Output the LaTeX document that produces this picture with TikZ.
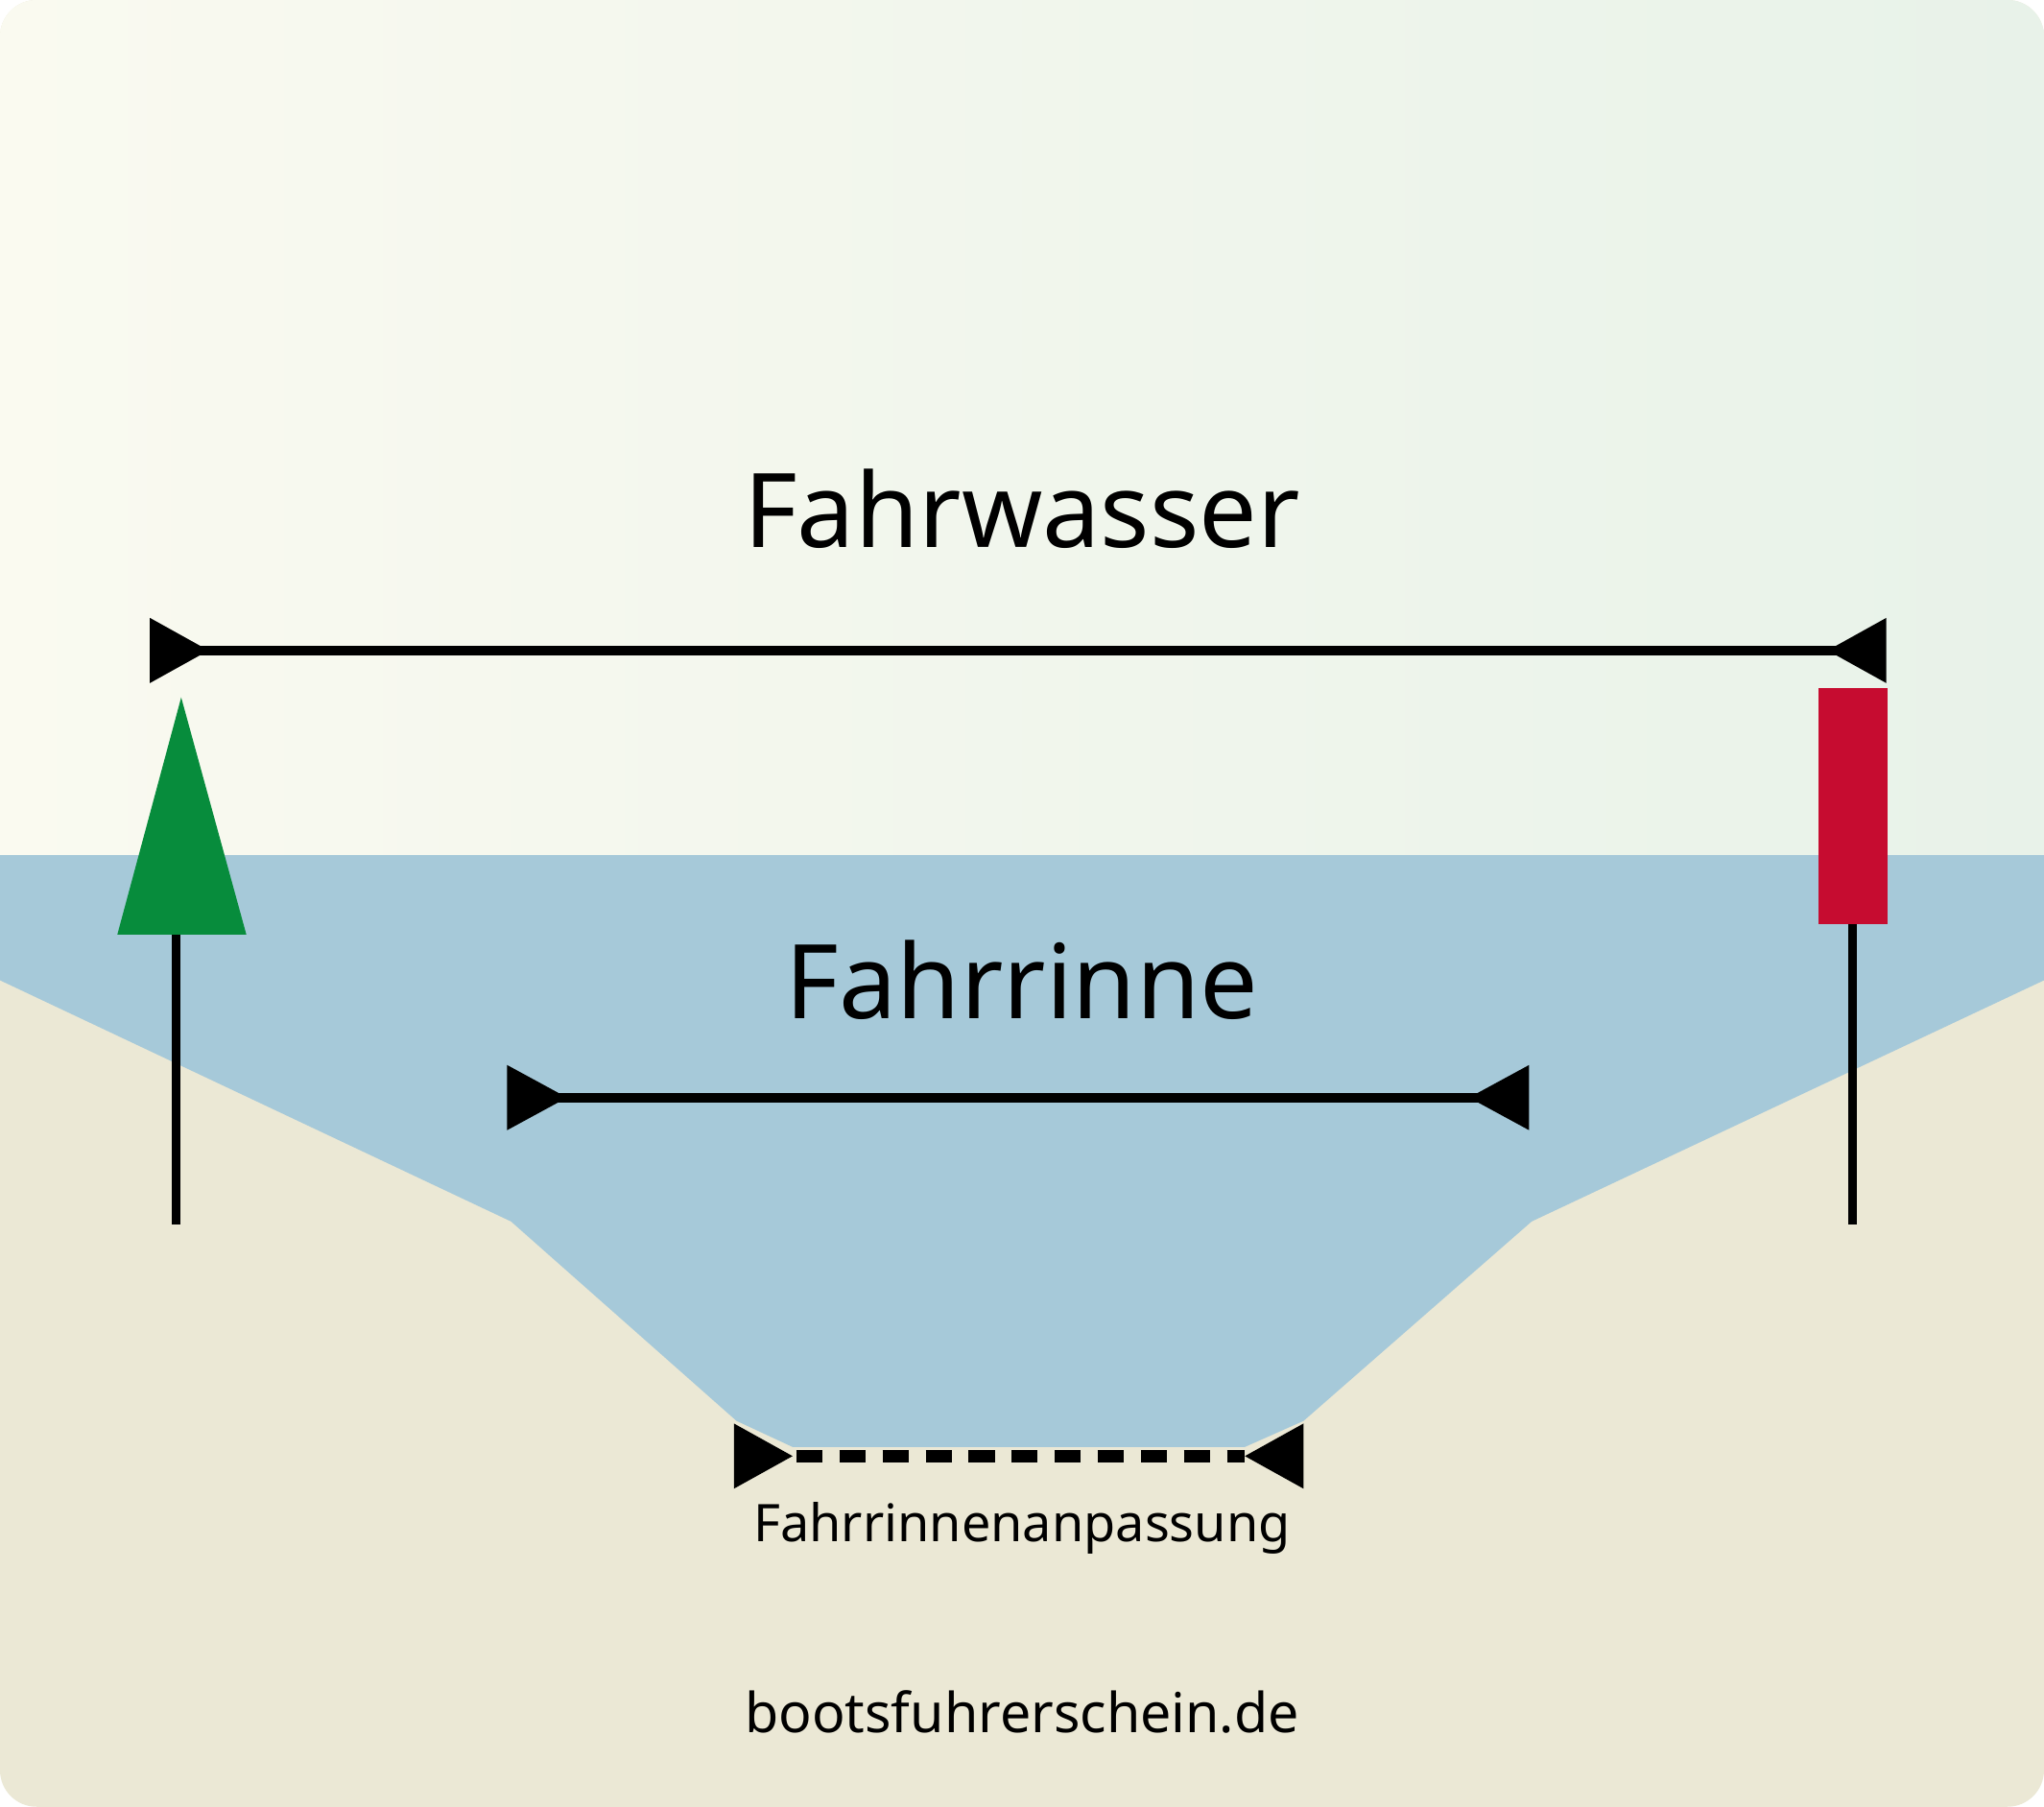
\documentclass[tikz,border=0pt]{standalone}
\usepackage{fontspec}
\setmainfont{Noto Sans}
\begin{document}
\begin{tikzpicture}[x=0.01cm,y=-0.01cm,
  lbl/.style={inner sep=0pt,text=black},
  bar/.style={line width=2pt,black},
  head/.style={fill=black}]
\definecolor{sky1}{HTML}{FAFAF0}\definecolor{sky2}{HTML}{E8F2E9}
\definecolor{sand}{HTML}{EBE8D5}\definecolor{water}{HTML}{A6C9D9}
\definecolor{grn}{HTML}{078C3C}\definecolor{rd}{HTML}{C60C30}
\useasboundingbox (0,0) rectangle (1568,1386);
\begin{scope}
\clip[rounded corners=0.28cm] (0,0) rectangle (1568,1386);
\fill[sand] (0,0) rectangle (1568,1386);
\shade[left color=sky1,right color=sky2] (0,0) rectangle (1568,656);
\fill[water] (0,656)--(1568,656)--(1568,752)--(1175,937)--(1000,1090)--(955,1110)--(608,1110)--(565,1090)--(392,937)--(0,752)--cycle;
\end{scope}
% Fahrwasser
\node[lbl,font=\fontsize{22.5}{26}\selectfont] (fw) at (784,390) {Fahrwasser};
\coordinate (a1) at (150,499); \coordinate (a2) at (1412,499);
\draw[bar] (a1)--(a2);
\fill[head] (115,474)--(115,524)--(160,499)--cycle;
\fill[head] (1447,474)--(1447,524)--(1402,499)--cycle;
% marks
\fill[grn] (139,535)--(90,717)--(189,717)--cycle;
\coordinate (g1) at (135,717); \coordinate (g2) at (135,939);
\draw[bar] (g1)--(g2);
\fill[rd] (1395,528) rectangle (1448,709);
\coordinate (r1) at (1421,709); \coordinate (r2) at (1421,939);
\draw[bar] (r1)--(r2);
% Fahrrinne
\node[lbl,font=\fontsize{22.5}{26}\selectfont] (fr) at (784,752) {Fahrrinne};
\coordinate (b1) at (425,842); \coordinate (b2) at (1138,842);
\draw[bar] (b1)--(b2);
\fill[head] (389,817)--(389,867)--(435,842)--cycle;
\fill[head] (1173,817)--(1173,867)--(1127,842)--cycle;
% Anpassung
\coordinate (c1) at (608,1117); \coordinate (c2) at (955,1117);
\draw[line width=2.6pt,dash pattern=on 0.2cm off 0.13cm,dash phase=-0.03cm] (c1)--(c2);
\fill[head] (563,1092)--(563,1142)--(608,1117)--cycle;
\fill[head] (1000,1092)--(1000,1142)--(955,1117)--cycle;
\node[lbl,font=\fontsize{11.3}{13}\selectfont] (fa) at (784,1172) {Fahrrinnenanpassung};
\node[lbl,font=\fontsize{12}{14}\selectfont] (web) at (784,1313) {bootsfuhrerschein.de};
\end{tikzpicture}
\end{document}
